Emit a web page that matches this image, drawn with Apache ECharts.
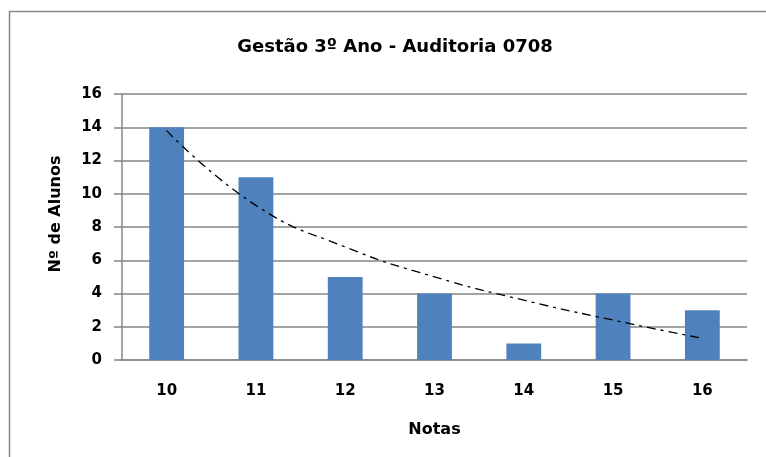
<!DOCTYPE html>
<html>
<head>
<meta charset="utf-8">
<script src="https://cdn.jsdelivr.net/npm/echarts@6/dist/echarts.min.js"></script>
<style>html,body{margin:0;padding:0;background:#fff;}#chart{width:766px;height:457px;}</style>
</head>
<body>
<div id="chart"></div>
<script>
const categories = ['10', '11', '12', '13', '14', '15', '16'];
const alunos = [14, 11, 5, 4, 1, 4, 3];
const tendencia = [13.8, 9.3, 6.8, 5.0, 3.6, 2.4, 1.3];
const yTicks = [0, 2, 4, 6, 8, 10, 12, 14, 16];

const FONT = '"DejaVu Sans", Tahoma, sans-serif';
const chart = echarts.init(document.getElementById('chart'), null, {renderer: 'canvas'});
chart.setOption({
  animation: false,
  backgroundColor: '#fff',
  graphic: [{
    type: 'rect', left: 7, top: 9, silent: true,
    shape: {width: 800, height: 500},
    style: {fill: 'none', stroke: '#888', lineWidth: 1.5}
  }],
  title: {
    text: 'Gestão 3º Ano - Auditoria 0708',
    left: 390, top: 33, textAlign: 'center',
    textStyle: {fontFamily: FONT, fontWeight: 'bold', fontSize: 18, color: '#000'}
  },
  grid: {left: 122, right: 19, top: 94, bottom: 97, containLabel: false},
  xAxis: {
    type: 'category', data: categories,
    name: 'Notas', nameLocation: 'middle', nameGap: 62,
    nameTextStyle: {fontFamily: FONT, fontWeight: 'bold', fontSize: 16, color: '#000'},
    axisLine: {lineStyle: {color: '#868686', width: 1.5}},
    axisTick: {show: false},
    axisLabel: {fontFamily: FONT, fontWeight: 'bold', fontSize: 15, color: '#000', margin: 24}
  },
  yAxis: {
    type: 'value', min: 0, max: 16, interval: 2,
    name: 'Nº de Alunos', nameLocation: 'middle', nameGap: 58, nameRotate: 90,
    nameTextStyle: {fontFamily: FONT, fontWeight: 'bold', fontSize: 16, color: '#000', padding: [0, 0, 0, 26]},
    axisLine: {show: true, lineStyle: {color: '#868686', width: 1.5}},
    axisTick: {show: true, length: 8, lineStyle: {color: '#868686', width: 1.5}},
    splitLine: {lineStyle: {color: '#868686', width: 1.5}},
    axisLabel: {fontFamily: FONT, fontWeight: 'bold', fontSize: 15, color: '#000', margin: 20,
      formatter: v => yTicks.includes(v) ? String(v) : ''}
  },
  series: [{
    type: 'bar', data: alunos, barWidth: '39%',
    itemStyle: {color: '#4F81BD'}
  }, {
    type: 'line', data: tendencia, smooth: true, symbol: 'none',
    lineStyle: {color: '#000', width: 1.3, type: [9, 5, 3, 5]},
    z: 5
  }]
});
</script>
</body>
</html>
